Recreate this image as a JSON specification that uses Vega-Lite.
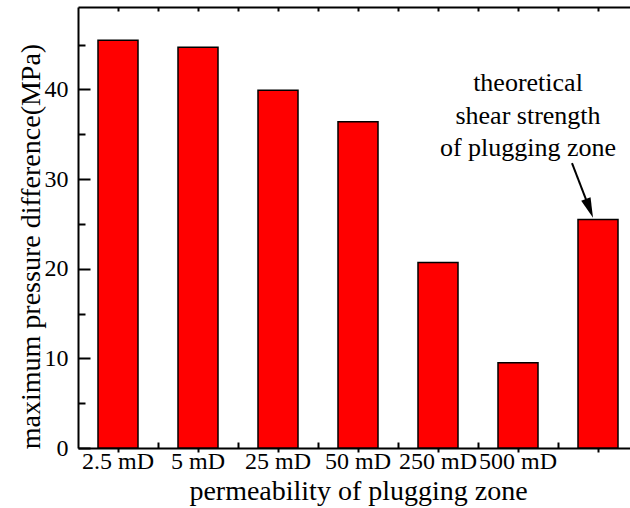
{
  "$schema": "https://vega.github.io/schema/vega-lite/v6.json",
  "width": 552,
  "height": 441,
  "autosize": {"type": "none"},
  "padding": {"left": 78, "top": 7, "right": 0, "bottom": 60},
  "background": "white",
  "config": {
    "view": {"stroke": null},
    "font": "Liberation Serif",
    "axis": {
      "domainColor": "black", "domainWidth": 2, "tickColor": "black", "tickWidth": 2,
      "labelColor": "black", "titleColor": "black",
      "labelFont": "Liberation Serif", "titleFont": "Liberation Serif",
      "labelFontSize": 24, "titleFontSize": 28, "titleFontWeight": "normal", "grid": false
    }
  },
  "datasets": {
    "bars": [
      {"permeability": "2.5 mD", "pressure": 45.5},
      {"permeability": "5 mD", "pressure": 44.7},
      {"permeability": "25 mD", "pressure": 39.9},
      {"permeability": "50 mD", "pressure": 36.4},
      {"permeability": "250 mD", "pressure": 20.7},
      {"permeability": "500 mD", "pressure": 9.5},
      {"permeability": " ", "pressure": 25.5}
    ],
    "note": [
      {"tx": 6.125, "ty": 40.7, "line": "theoretical"},
      {"tx": 6.125, "ty": 37.0, "line": "shear strength"},
      {"tx": 6.125, "ty": 33.5, "line": "of plugging zone"}
    ],
    "arrow": [
      {"x1": 6.675, "y1": 31.77, "x2": 6.893, "y2": 26.73}
    ]
  },
  "resolve": {"scale": {"x": "independent"}, "axis": {"x": "independent", "y": "independent"}},
  "layer": [
    {
      "data": {"name": "bars"},
      "mark": {"type": "bar", "color": "#ff0000", "stroke": "black", "strokeWidth": 1.5},
      "encoding": {
        "x": {
          "field": "permeability", "type": "nominal", "sort": null,
          "scale": {"paddingInner": 0.5, "paddingOuter": 0.2, "align": 0.625},
          "axis": {"orient": "bottom", "title": "permeability of plugging zone", "labelAngle": 0,
                   "tickSize": 4, "labelPadding": -3, "titleX": 280, "titleY": 51,
                   "titleBaseline": "alphabetic", "titleAnchor": null}
        },
        "y": {
          "field": "pressure", "type": "quantitative",
          "scale": {"domain": [0, 49.2], "nice": false},
          "axis": {"orient": "left", "values": [0, 10, 20, 30, 40], "tickSize": -12, "labelPadding": 22,
                   "title": "maximum pressure difference(MPa)", "titleX": -47, "titleY": 239,
                   "titleBaseline": "middle", "titleAlign": "center", "titleAngle": 270}
        }
      }
    },
    {
      "resolve": {"axis": {"x": "independent", "y": "independent"}},
      "layer": [
        {
          "data": {"name": "note"},
          "mark": {"type": "text", "font": "Liberation Serif", "fontSize": 26, "color": "black", "align": "center", "baseline": "middle"},
          "encoding": {
            "x": {"field": "tx", "type": "quantitative", "scale": {"domain": [0.5, 7.4], "nice": false, "zero": false},
                  "axis": {"orient": "top", "values": [1, 1.5, 2, 2.5, 3, 3.5, 4, 4.5, 5, 5.5, 6, 6.5, 7], "tickSize": -4, "labels": false, "title": null}},
            "y": {"field": "ty", "type": "quantitative", "scale": {"domain": [0, 49.2], "nice": false},
                  "axis": {"orient": "left", "values": [5, 15, 25, 35, 45], "tickSize": -7, "labels": false, "domain": false, "title": null}},
            "text": {"field": "line"}
          }
        },
        {
          "data": {"name": "arrow"},
          "mark": {"type": "rule", "color": "black", "strokeWidth": 2},
          "encoding": {
            "x": {"field": "x1", "type": "quantitative", "scale": {"domain": [0.5, 7.4], "nice": false, "zero": false},
                  "axis": {"orient": "bottom", "values": [1.5, 2.5, 3.5, 4.5, 5.5, 6.5], "tickSize": -6, "labels": false, "domain": false, "title": null}},
            "y": {"field": "y1", "type": "quantitative", "scale": {"domain": [0, 49.2], "nice": false}, "axis": null},
            "x2": {"field": "x2"},
            "y2": {"field": "y2"}
          }
        },
        {
          "data": {"name": "arrow"},
          "mark": {"type": "point", "filled": true, "color": "black", "opacity": 1, "shape": "M-0.5,-1L0.5,-1L0,1Z", "size": 400, "angle": 339},
          "encoding": {
            "x": {"field": "x2", "type": "quantitative", "scale": {"domain": [0.5, 7.4], "nice": false, "zero": false}, "axis": null},
            "y": {"field": "y2", "type": "quantitative", "scale": {"domain": [0, 49.2], "nice": false}, "axis": null}
          }
        }
      ]
    }
  ]
}
